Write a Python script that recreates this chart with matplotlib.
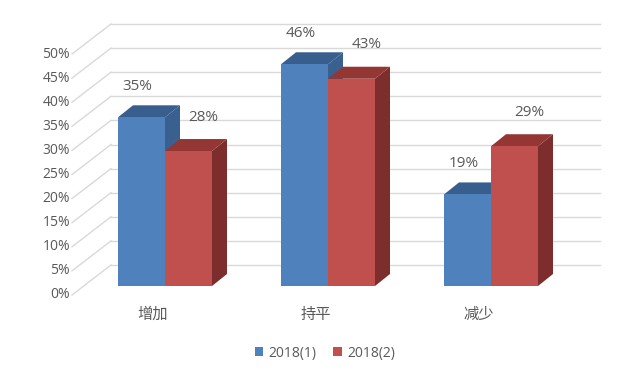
import matplotlib
matplotlib.use("Agg")
import matplotlib.pyplot as plt
from matplotlib.patches import Polygon, Patch
from matplotlib.ticker import FuncFormatter
import matplotlib.transforms as mtransforms
import numpy as np

plt.rcParams['font.family'] = ['Open Sans', 'Noto Sans CJK SC', 'DejaVu Sans']

categories = ['增加', '持平', '减少']
series_names = ['2018(1)', '2018(2)']
series1 = [0.35, 0.46, 0.19]
series2 = [0.28, 0.43, 0.29]
yticks = [0.00, 0.05, 0.10, 0.15, 0.20, 0.25, 0.30, 0.35, 0.40, 0.45, 0.50]

TEXT = '#595959'
GRID = '#D9D9D9'
front_cols = ['#4F81BD', '#C0504D']
top_cols = ['#385E8E', '#943634']
side_cols = ['#3A6090', '#7D2E2C']

W, H, DPI = 639, 381, 100
fig = plt.figure(figsize=(W / DPI, H / DPI), dpi=DPI)

# ---- back wall axes (gridlines) ----
bl, br, bb, bt = 111, 600, 265, 24   # pixel box (top-origin y)
axb = fig.add_axes([bl / W, (H - bb) / H, (br - bl) / W, (bb - bt) / H])
axb.set_ylim(0, 0.5)
axb.set_xlim(0, 1)
axb.set_yticks(yticks)
axb.yaxis.set_major_formatter(FuncFormatter(lambda v, p: f'{v*100:.0f}%'))
axb.set_xticks([])
for s in axb.spines.values():
    s.set_visible(False)
axb.grid(axis='y', color=GRID, linewidth=1)
for gl in axb.get_ygridlines():
    gl.set_clip_on(False)
axb.tick_params(axis='y', length=0, pad=0, labelsize=10, labelcolor=TEXT)
offs = mtransforms.ScaledTranslation(-41 / DPI, -28 / DPI, fig.dpi_scale_trans)
for lab in axb.get_yticklabels():
    lab.set_transform(lab.get_transform() + offs)
blend = mtransforms.blended_transform_factory(axb.transAxes, axb.transData)
px_per_unit_b = (bb - bt) / 0.5
for v in yticks:
    axb.plot([0, -39 / (br - bl)], [v, v - 30 / px_per_unit_b], color=GRID,
             lw=1, transform=blend, clip_on=False)

# ---- front axes (bars) ----
ax = fig.add_axes([0, 0, 1, 1])
ax.patch.set_alpha(0)
ax.set_axis_off()
c0, step = 165, 163          # px of first category center, spacing
base = 286                   # px (top-origin) of bar base
scale = 482                  # px per unit
ax.set_xlim(-c0 / step, (W - c0) / step)
ax.set_ylim(-(H - base) / scale, base / scale)

w = 47 / step
dx = 15 / step
dy = 12 / scale
x = np.arange(len(categories))

for si, vals in enumerate([series1, series2]):
    x0s = x - w + si * w
    for x0, h in zip(x0s, vals):
        x1 = x0 + w
        ax.add_patch(Polygon([(x1, 0), (x1, h), (x1 + dx, h + dy), (x1 + dx, dy)],
                             closed=True, facecolor=side_cols[si], edgecolor='none'))
        ax.add_patch(Polygon([(x0, h), (x1, h), (x1 + dx, h + dy), (x0 + dx, h + dy)],
                             closed=True, facecolor=top_cols[si], edgecolor='none'))
    ax.bar(x0s, vals, width=w, align='edge', color=front_cols[si], edgecolor='none')

label_off = [(-4, 31), (15, 34)]
for si, vals in enumerate([series1, series2]):
    for i, h in enumerate(vals):
        xc = x[i] - w / 2 + si * w
        ax.annotate(f'{h*100:.0f}%', (xc, h), xytext=label_off[si], textcoords='offset pixels',
                    ha='center', va='center', fontsize=11, color=TEXT)

for i, c in enumerate(categories):
    ax.annotate(c, (x[i], 0), xytext=(-12, -29), textcoords='offset pixels',
                ha='center', va='center', fontsize=11, color=TEXT)

handles = [Patch(facecolor=front_cols[i], edgecolor='none', label=series_names[i]) for i in range(2)]
fig.legend(handles=handles, loc='center', bbox_to_anchor=(325 / W, 1 - 353 / H), ncol=2,
           frameon=False, fontsize=10, labelcolor=TEXT, handlelength=0.6, handleheight=0.6,
           handletextpad=0.4, columnspacing=1.2)

fig.savefig('out.png', dpi=DPI, facecolor='white')
